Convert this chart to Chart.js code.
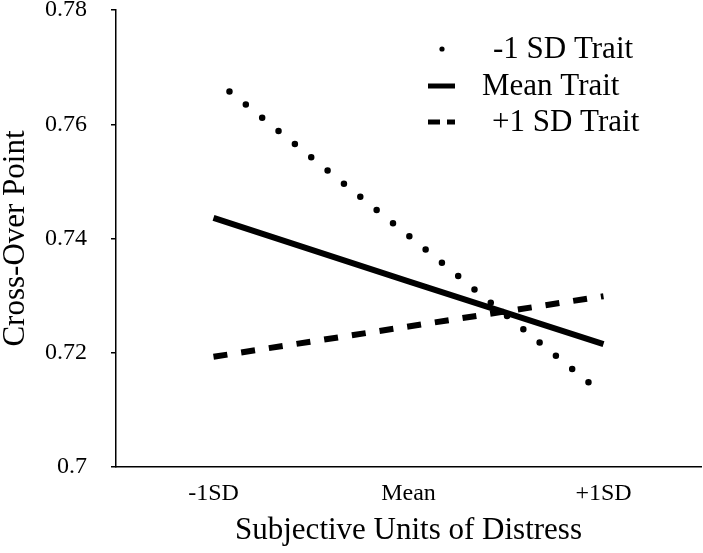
<!DOCTYPE html>
<html>
<head>
<meta charset="utf-8">
<script src="https://cdn.jsdelivr.net/npm/chart.js@4"></script>
<style>
  html, body { margin: 0; padding: 0; background: #fff; }
  #wrap { width: 703px; height: 553px; }
</style>
</head>
<body>
<div id="wrap"><canvas id="crossChart"></canvas></div>
<script>
// data
const categories = ["-1SD", "Mean", "+1SD"];
const lowTrait = [0.768, 0.7405, 0.7127];
const meanTrait = [0.7436, 0.7325, 0.7215];
const highTrait = [0.7193, 0.7246, 0.7299];
const yTicks = [0.7, 0.72, 0.74, 0.76, 0.78];
const seriesNames = ["-1 SD Trait", "Mean Trait", "+1 SD Trait"];

const FONT = "'Liberation Serif', 'Times New Roman', serif";

// legend drawn like the original: small sample of each line style + label
const legendPlugin = {
  id: "sampleLegend",
  afterDraw(chart) {
    const ctx = chart.ctx;
    const rows = [
      { y: 49, textX: 493, x1: 442, x2: 442 },
      { y: 86, textX: 482, x1: 428, x2: 455 },
      { y: 122, textX: 492, x1: 428, x2: 455 },
    ];
    chart.data.datasets.forEach((ds, i) => {
      const r = rows[i];
      ctx.save();
      ctx.strokeStyle = "#000";
      ctx.fillStyle = "#000";
      if (i === 0) {
        ctx.beginPath();
        ctx.arc(r.x1, r.y, 2.6, 0, Math.PI * 2);
        ctx.fill();
      } else if (i === 1) {
        ctx.lineWidth = 5;
        ctx.beginPath();
        ctx.moveTo(r.x1, r.y);
        ctx.lineTo(r.x2, r.y);
        ctx.stroke();
      } else {
        ctx.lineWidth = 5;
        ctx.setLineDash([12, 7]);
        ctx.beginPath();
        ctx.moveTo(r.x1, r.y);
        ctx.lineTo(r.x2, r.y);
        ctx.stroke();
      }
      ctx.font = "31px " + FONT;
      ctx.textBaseline = "middle";
      ctx.textAlign = "left";
      ctx.fillText(ds.label, r.textX, r.y + 1);
      ctx.restore();
    });
  },
};

new Chart(document.getElementById("crossChart"), {
  type: "line",
  data: {
    labels: categories,
    datasets: [
      {
        label: seriesNames[0],
        data: lowTrait,
        borderColor: "#000",
        borderWidth: 6.5,
        borderDash: [0, 21],
        borderDashOffset: 0.5,
        borderCapStyle: "round",
        pointRadius: 0,
        tension: 0,
        fill: false,
      },
      {
        label: seriesNames[1],
        data: meanTrait,
        borderColor: "#000",
        borderWidth: 6,
        borderCapStyle: "butt",
        pointRadius: 0,
        tension: 0,
        fill: false,
      },
      {
        label: seriesNames[2],
        data: highTrait,
        borderColor: "#000",
        borderWidth: 6,
        borderDash: [14, 14],
        borderCapStyle: "butt",
        pointRadius: 0,
        tension: 0,
        fill: false,
      },
    ],
  },
  options: {
    responsive: true,
    maintainAspectRatio: false,
    animation: false,
    layout: { padding: { top: 0, right: 2, left: 0, bottom: 0 } },
    plugins: {
      legend: { display: false },
      tooltip: { enabled: false },
    },
    scales: {
      x: {
        offset: true,
        grid: { display: false },
        border: { display: true, color: "#000", width: 1.5 },
        ticks: { color: "#000", font: { family: FONT, size: 24 }, padding: 4 },
        title: {
          display: true,
          text: "Subjective Units of Distress",
          color: "#000",
          font: { family: FONT, size: 31 },
          padding: { top: 0, bottom: 4 },
        },
      },
      y: {
        min: 0.7,
        max: 0.78,
        afterBuildTicks: (axis) => {
          axis.ticks = yTicks.map((v) => ({ value: v }));
        },
        // big tick padding also adds space above the axis; undo that
        afterFit: (axis) => {
          axis.paddingTop = 10;
          axis.paddingBottom = 10;
        },
        grid: {
          display: true,
          drawOnChartArea: false,
          drawTicks: true,
          tickLength: 5,
          color: "#000",
          lineWidth: 1.5,
        },
        border: { display: true, color: "#000", width: 1.5 },
        ticks: {
          color: "#000",
          font: { family: FONT, size: 24 },
          padding: 24,
          callback: (v) => String(Math.round(v * 100) / 100),
        },
        title: {
          display: true,
          text: "Cross-Over Point",
          color: "#000",
          font: { family: FONT, size: 31 },
          padding: { top: -2.6, bottom: -13.6 },
        },
      },
    },
  },
  plugins: [legendPlugin],
});
</script>
</body>
</html>
